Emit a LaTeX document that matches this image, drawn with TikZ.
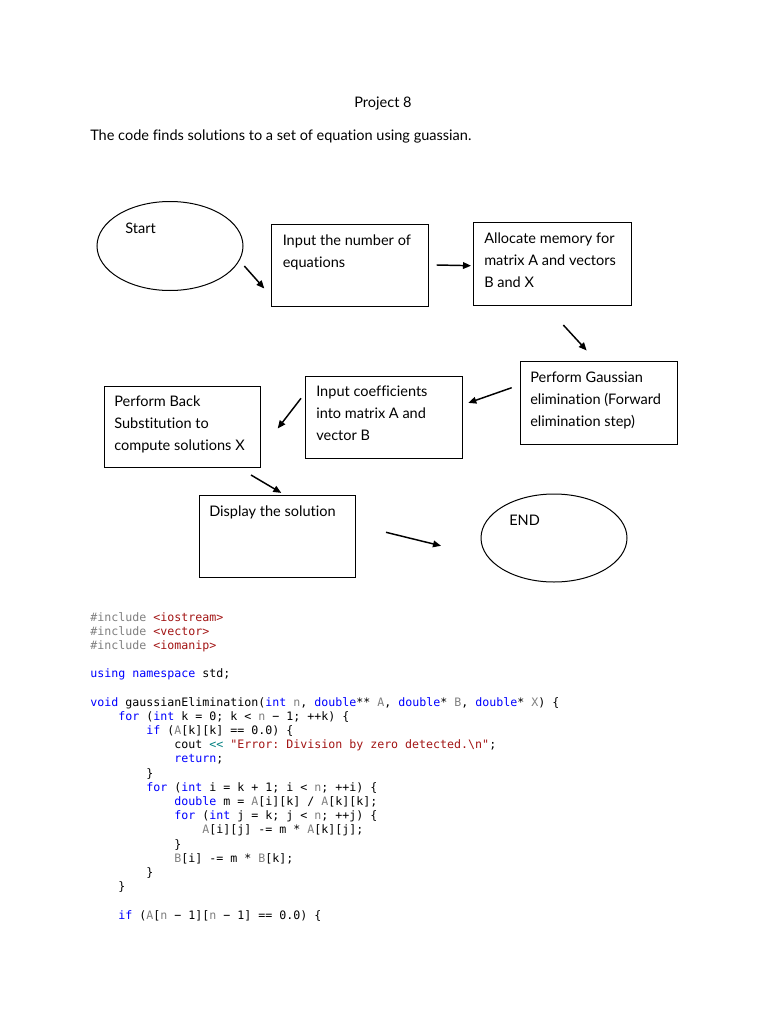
\documentclass[tikz,border=0pt]{standalone}
\usepackage{fontspec}
\setmainfont{Lato}[Ligatures={NoCommon}]
\setmonofont{DejaVu Sans Mono}
\usetikzlibrary{arrows.meta,shapes.geometric}
\definecolor{ckw}{HTML}{0000FF}
\definecolor{cgr}{HTML}{808080}
\definecolor{cst}{HTML}{A31515}
\definecolor{cop}{HTML}{008080}
\newcommand\cKw[1]{\textcolor{ckw}{#1}}
\newcommand\cVr[1]{\textcolor{cgr}{#1}}
\newcommand\cSt[1]{\textcolor{cst}{#1}}
\newcommand\cOp[1]{\textcolor{cop}{#1}}
\begin{document}
\begin{tikzpicture}[x=0.75pt,y=-0.75pt,
  txt/.style={inner sep=0pt,anchor=base west,font=\fontsize{10.9}{13}\selectfont},
  code/.style={inner sep=0pt,anchor=base west,font=\fontsize{8.72}{10}\selectfont\ttfamily},
  box/.style={draw,line width=0.75pt,inner sep=0pt,anchor=north west},
  oval/.style={draw,ellipse,line width=0.75pt,inner sep=0pt},
  arr/.style={line width=1.1pt,-{Triangle[length=6pt,width=5pt]}}]
\fill[white] (0,0) rectangle (768,1024);
\useasboundingbox (0,0) rectangle (768,1024);
% header
\node[txt,anchor=base] (title) at (383,107.5) {Project 8};
\node[txt] (intro) at (90,140.5) {The code finds solutions to a set of equation using guassian.};
% shapes
\node[oval,minimum width=109.5pt,minimum height=66.75pt] (start) at (170,246) {};
\node[txt] (startt) at (125,233) {Start};
\node[box,minimum width=117.75pt,minimum height=61.5pt] (b1) at (271,224) {};
\node[txt] (b1a) at (282.5,245) {Input the number of};
\node[txt] (b1b) at (282.5,267) {equations};
\node[box,minimum width=118.5pt,minimum height=62.25pt] (b2) at (473,222) {};
\node[txt] (b2a) at (484,243) {Allocate memory for};
\node[txt] (b2b) at (484,265) {matrix A and vectors};
\node[txt] (b2c) at (484,287) {B and X};
\node[box,minimum width=117.75pt,minimum height=62.25pt] (b3) at (520,361) {};
\node[txt] (b3a) at (530,382) {Perform Gaussian};
\node[txt] (b3b) at (530,404) {elimination (Forward};
\node[txt] (b3c) at (530,426) {elimination step)};
\node[box,minimum width=117.75pt,minimum height=61.5pt] (b4) at (305,376) {};
\node[txt] (b4a) at (316,396) {Input coefficients};
\node[txt] (b4b) at (316,418) {into matrix A and};
\node[txt] (b4c) at (316,440) {vector B};
\node[box,minimum width=117pt,minimum height=60.75pt] (b5) at (104,386) {};
\node[txt] (b5a) at (114,406) {Perform Back};
\node[txt] (b5b) at (114,428) {Substitution to};
\node[txt] (b5c) at (114,450) {compute solutions X};
\node[box,minimum width=117pt,minimum height=61.5pt] (b6) at (199,495) {};
\node[txt] (b6a) at (209,516) {Display the solution};
\node[oval,minimum width=109.5pt,minimum height=66pt] (end) at (554,538) {};
\node[txt] (endt) at (509,525) {END};
% arrows
\coordinate (p1s) at (244.3,266); \coordinate (p1e) at (264.3,288.5);
\coordinate (p2s) at (436.7,265); \coordinate (p2e) at (471,265.7);
\coordinate (p3s) at (563.3,325); \coordinate (p3e) at (586.7,350.5);
\coordinate (p4s) at (511.7,387.7); \coordinate (p4e) at (468.3,402.9);
\coordinate (p5s) at (301,398.3); \coordinate (p5e) at (277.7,428.5);
\coordinate (p6s) at (251,475); \coordinate (p6e) at (281.3,492.9);
\coordinate (p7s) at (386,532.3); \coordinate (p7e) at (441,545.8);
\draw[arr] (p1s) -- (p1e);
\draw[arr] (p2s) -- (p2e);
\draw[arr] (p3s) -- (p3e);
\draw[arr] (p4s) -- (p4e);
\draw[arr] (p5s) -- (p5e);
\draw[arr] (p6s) -- (p6e);
\draw[arr] (p7s) -- (p7e);
% code
\node[code] (c1) at (90,621) {\cVr{\#include} \cSt{<iostream>}};
\node[code] (c2) at (90,635.2) {\cVr{\#include} \cSt{<vector>}};
\node[code] (c3) at (90,649.4) {\cVr{\#include} \cSt{<iomanip>}};
\node[code] (c5) at (90,677.8) {\cKw{using} \cKw{namespace} std;};
\node[code] (c7) at (90,706.1) {\cKw{void} gaussianElimination(\cKw{int} \cVr{n}, \cKw{double}** \cVr{A}, \cKw{double}* \cVr{B}, \cKw{double}* \cVr{X}) \{};
\node[code] (c8) at (118,720.3) {\cKw{for} (\cKw{int} k = 0; k < \cVr{n} − 1; ++k) \{};
\node[code] (c9) at (146,734.5) {\cKw{if} (\cVr{A}[k][k] == 0.0) \{};
\node[code] (c10) at (174,748.7) {cout \cOp{<<} \cSt{"Error: Division by zero detected.\textbackslash n"};};
\node[code] (c11) at (174,762.9) {\cKw{return};};
\node[code] (c12) at (146,777.1) {\}};
\node[code] (c13) at (146,791.3) {\cKw{for} (\cKw{int} i = k + 1; i < \cVr{n}; ++i) \{};
\node[code] (c14) at (174,805.5) {\cKw{double} m = \cVr{A}[i][k] / \cVr{A}[k][k];};
\node[code] (c15) at (174,819.7) {\cKw{for} (\cKw{int} j = k; j < \cVr{n}; ++j) \{};
\node[code] (c16) at (202,833.9) {\cVr{A}[i][j] -= m * \cVr{A}[k][j];};
\node[code] (c17) at (174,848.1) {\}};
\node[code] (c18) at (174,862.3) {\cVr{B}[i] -= m * \cVr{B}[k];};
\node[code] (c19) at (146,876.5) {\}};
\node[code] (c20) at (118,890.7) {\}};
\node[code] (c22) at (118,919.1) {\cKw{if} (\cVr{A}[\cVr{n} − 1][\cVr{n} − 1] == 0.0) \{};
\end{tikzpicture}
\end{document}
